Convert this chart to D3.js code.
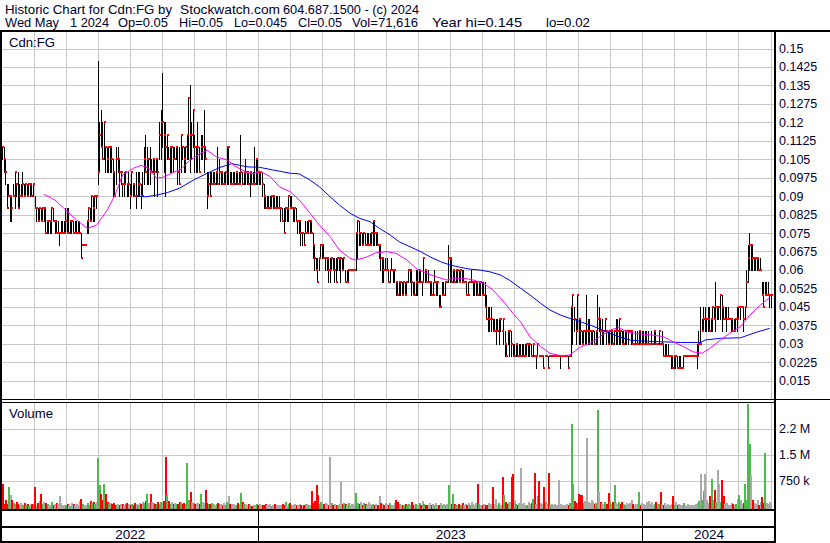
<!DOCTYPE html>
<html><head><meta charset="utf-8">
<script src="https://cdn.jsdelivr.net/npm/d3@7"></script>
<style>html,body{margin:0;padding:0;background:#fff}svg{display:block}text{font-family:"Liberation Sans",Arial,sans-serif}</style>
</head><body><svg id="c" width="830" height="543"></svg>
<script>
// header fields: [text, start x, end x]
const titleLine1 = [["Historic Chart for Cdn:FG by", 5, 172], ["Stockwatch.com", 180, 280], ["604.687.1500 - (c) 2024", 283, 419]];
const titleLine2 = [["Wed May", 5, 59], ["1 2024", 70, 109], ["Op=0.05", 118, 168], ["Hi=0.05", 179, 223], ["Lo=0.045", 234, 287], ["Cl=0.05", 298, 342], ["Vol=71,616", 352, 418], ["Year hi=0.145", 432, 522], ["lo=0.02", 546, 590]];
const symbol = "Cdn:FG";
const volumeTitle = "Volume";
const years = ["2022", "2023", "2024"];
const yearStartBar = [0, 167, 417];
const priceTicks = [0.15, 0.1425, 0.135, 0.1275, 0.12, 0.1125, 0.105, 0.0975, 0.09, 0.0825, 0.075, 0.0675, 0.06, 0.0525, 0.045, 0.0375, 0.03, 0.0225, 0.015];
const priceTickLabels = ["0.15", "0.1425", "0.135", "0.1275", "0.12", "0.1125", "0.105", "0.0975", "0.09", "0.0825", "0.075", "0.0675", "0.06", "0.0525", "0.045", "0.0375", "0.03", "0.0225", "0.015"];
const volTicksK = [750, 1500, 2250];
const volTickLabels = ["750 k", "1.5 M", "2.2 M"];
const prevClose = 0.115;

const highs = [
.11,.11,.105,.095,.095,.09,.09,.095,.10,.095,
.10,.095,.095,.10,.095,.095,.095,.095,.095,.095,
.095,.09,.085,.085,.085,.085,.085,.085,.085,.08,
.08,.08,.085,.085,.08,.08,.08,.075,.08,.08,
.08,.085,.085,.085,.08,.08,.08,.08,.08,.08,
.08,.075,.07,.07,.07,.08,.085,.085,.09,.09,
.09,.09,.145,.12,.125,.12,.12,.11,.11,.11,
.11,.11,.105,.10,.11,.11,.105,.10,.095,.10,
.10,.095,.10,.095,.10,.095,.095,.10,.10,.10,
.095,.10,.11,.115,.11,.105,.11,.105,.105,.105,
.105,.105,.12,.125,.14,.12,.12,.115,.11,.11,
.11,.11,.11,.11,.11,.11,.115,.11,.11,.11,
.115,.13,.135,.12,.125,.115,.11,.12,.11,.115,
.115,.125,.11,.10,.10,.10,.10,.10,.10,.10,
.11,.105,.10,.10,.10,.10,.11,.11,.10,.10,
.10,.10,.10,.10,.10,.115,.10,.10,.105,.10,
.10,.10,.10,.10,.11,.105,.105,.10,.10,.10,
.095,.09,.09,.09,.09,.09,.09,.09,.09,.09,
.09,.085,.085,.085,.085,.085,.09,.09,.09,.085,
.085,.085,.08,.08,.08,.075,.075,.08,.08,.08,
.08,.08,.075,.07,.065,.065,.065,.07,.07,.07,
.065,.065,.065,.065,.065,.065,.065,.065,.065,.065,
.065,.065,.065,.06,.06,.06,.06,.06,.06,.06,
.075,.08,.08,.075,.075,.075,.075,.075,.075,.075,
.075,.08,.08,.075,.075,.07,.07,.065,.065,.065,
.065,.06,.06,.065,.06,.06,.055,.055,.055,.055,
.055,.055,.055,.055,.06,.06,.06,.055,.055,.06,
.06,.06,.06,.055,.065,.06,.06,.06,.055,.055,
.055,.06,.055,.055,.05,.05,.055,.055,.055,.055,
.07,.065,.065,.06,.06,.06,.06,.06,.06,.06,
.06,.055,.055,.055,.055,.06,.055,.055,.055,.055,
.055,.055,.055,.055,.055,.05,.045,.045,.045,.04,
.04,.04,.04,.04,.04,.035,.04,.035,.03,.035,
.035,.035,.03,.03,.03,.03,.03,.03,.03,.03,
.03,.03,.03,.03,.03,.03,.025,.025,.03,.025,
.025,.025,.025,.025,.025,.025,.025,.025,.025,.025,
.025,.025,.025,.025,.025,.025,.025,.025,.025,.025,
.045,.05,.045,.04,.05,.04,.04,.035,.035,.035,
.05,.04,.04,.035,.035,.035,.035,.05,.045,.04,
.04,.035,.04,.035,.035,.035,.035,.035,.035,.04,
.04,.04,.035,.035,.035,.035,.035,.035,.035,.035,
.035,.03,.035,.035,.035,.035,.035,.035,.035,.035,
.035,.03,.035,.03,.035,.035,.03,.035,.03,.035,
.03,.03,.03,.03,.025,.025,.025,.025,.025,.025,
.025,.025,.02,.025,.025,.025,.025,.025,.025,.025,
.025,.025,.03,.035,.045,.04,.045,.045,.04,.045,
.045,.04,.045,.045,.055,.045,.045,.05,.05,.045,
.045,.045,.045,.04,.04,.04,.04,.04,.045,.045,
.045,.045,.045,.045,.06,.07,.075,.07,.07,.065,
.065,.065,.065,.065,.055,.055,.055,.055,.055,.05,
.05];

const lows = [
.105,.10,.095,.085,.09,.08,.08,.09,.085,.09,
.085,.085,.09,.09,.09,.09,.09,.09,.09,.09,
.09,.085,.08,.08,.08,.08,.08,.08,.075,.075,
.075,.075,.075,.08,.075,.075,.075,.07,.075,.075,
.075,.075,.075,.075,.075,.075,.075,.075,.075,.075,
.075,.065,.07,.07,.07,.075,.075,.08,.08,.08,
.08,.085,.095,.10,.11,.105,.105,.10,.10,.10,
.10,.10,.09,.09,.095,.10,.09,.095,.09,.09,
.095,.09,.09,.085,.09,.09,.09,.085,.09,.09,
.085,.09,.095,.10,.095,.095,.095,.10,.10,.09,
.10,.09,.105,.105,.11,.10,.09,.105,.105,.10,
.10,.10,.105,.105,.095,.095,.10,.105,.10,.10,
.105,.105,.10,.105,.11,.10,.10,.10,.10,.105,
.105,.10,.105,.085,.09,.09,.095,.095,.095,.095,
.095,.095,.095,.095,.095,.095,.095,.095,.095,.095,
.095,.095,.095,.095,.095,.095,.095,.095,.095,.095,
.095,.09,.095,.095,.095,.095,.095,.095,.095,.09,
.085,.085,.085,.085,.085,.085,.085,.085,.085,.085,
.085,.08,.08,.075,.08,.08,.08,.085,.085,.08,
.08,.08,.075,.075,.07,.07,.07,.075,.075,.075,
.075,.075,.065,.06,.06,.055,.06,.065,.065,.065,
.06,.06,.055,.055,.06,.06,.055,.055,.06,.06,
.055,.06,.06,.055,.055,.055,.06,.06,.06,.06,
.06,.065,.07,.07,.07,.07,.07,.07,.07,.07,
.07,.07,.07,.07,.07,.065,.06,.055,.055,.06,
.06,.055,.055,.06,.055,.055,.05,.05,.05,.05,
.05,.05,.05,.05,.055,.055,.05,.05,.05,.05,
.05,.055,.055,.05,.055,.055,.055,.055,.05,.05,
.05,.055,.05,.05,.045,.045,.05,.05,.05,.055,
.055,.055,.055,.055,.055,.055,.055,.055,.055,.055,
.055,.055,.05,.05,.055,.055,.05,.05,.05,.05,
.05,.05,.05,.05,.045,.04,.035,.035,.035,.035,
.035,.03,.035,.03,.035,.035,.03,.025,.025,.03,
.025,.025,.025,.025,.025,.025,.025,.025,.025,.025,
.025,.025,.025,.025,.025,.025,.025,.02,.025,.025,
.025,.025,.02,.025,.025,.02,.025,.025,.025,.025,
.025,.025,.025,.02,.025,.025,.025,.025,.02,.025,
.025,.03,.035,.03,.035,.03,.03,.03,.03,.03,
.03,.03,.03,.03,.03,.03,.03,.03,.035,.03,
.03,.03,.035,.03,.03,.03,.03,.03,.03,.03,
.03,.03,.03,.03,.03,.03,.03,.03,.035,.03,
.03,.03,.03,.03,.03,.03,.03,.03,.03,.03,
.03,.03,.03,.03,.03,.03,.03,.03,.03,.03,
.025,.025,.025,.025,.025,.02,.02,.02,.02,.02,
.02,.02,.02,.02,.025,.025,.025,.025,.025,.025,
.025,.025,.02,.025,.03,.035,.035,.035,.035,.035,
.035,.035,.035,.04,.035,.04,.04,.04,.035,.04,
.04,.035,.04,.04,.035,.035,.035,.035,.035,.04,
.04,.045,.035,.04,.045,.055,.06,.06,.06,.06,
.06,.06,.06,.06,.05,.045,.05,.05,.05,.045,
.045];

const closes = [
.11,.105,.10,.085,.09,.09,.085,.09,.10,.095,
.085,.09,.09,.095,.09,.095,.09,.095,.095,.09,
.095,.085,.085,.08,.085,.08,.085,.085,.075,.08,
.08,.08,.085,.08,.08,.075,.075,.075,.075,.075,
.075,.08,.075,.075,.08,.08,.075,.075,.075,.075,
.075,.065,.07,.07,.07,.08,.085,.08,.09,.085,
.09,.09,.10,.115,.11,.105,.12,.11,.105,.11,
.11,.105,.10,.09,.105,.105,.10,.10,.095,.095,
.10,.095,.095,.09,.10,.095,.09,.09,.095,.095,
.09,.09,.105,.10,.105,.105,.10,.10,.105,.10,
.105,.10,.115,.12,.12,.115,.11,.115,.105,.11,
.11,.105,.105,.11,.10,.095,.115,.11,.105,.11,
.115,.13,.115,.115,.125,.11,.11,.11,.10,.11,
.11,.11,.105,.09,.095,.09,.095,.095,.095,.10,
.095,.10,.10,.095,.095,.10,.11,.11,.095,.095,
.095,.095,.10,.095,.095,.10,.095,.10,.10,.10,
.095,.10,.095,.095,.095,.105,.10,.10,.10,.095,
.09,.085,.085,.085,.085,.09,.09,.085,.085,.085,
.085,.085,.08,.075,.085,.085,.09,.085,.085,.085,
.085,.08,.08,.08,.075,.075,.07,.075,.075,.08,
.08,.075,.07,.065,.06,.055,.065,.07,.07,.065,
.065,.065,.06,.06,.065,.06,.06,.055,.065,.065,
.065,.06,.065,.055,.055,.06,.06,.06,.06,.06,
.075,.08,.075,.075,.07,.075,.07,.07,.07,.07,
.075,.08,.075,.075,.07,.07,.065,.065,.06,.06,
.06,.055,.06,.06,.06,.06,.055,.05,.055,.055,
.05,.055,.05,.055,.06,.06,.055,.05,.05,.055,
.055,.06,.055,.055,.065,.06,.055,.055,.055,.05,
.05,.055,.055,.055,.045,.045,.05,.05,.055,.055,
.065,.065,.055,.06,.055,.06,.06,.055,.06,.055,
.055,.055,.05,.05,.055,.055,.055,.055,.055,.05,
.055,.055,.05,.05,.045,.04,.04,.04,.04,.035,
.035,.035,.035,.04,.04,.035,.04,.03,.025,.035,
.035,.03,.025,.025,.03,.025,.025,.025,.025,.025,
.025,.03,.03,.03,.025,.03,.025,.025,.03,.025,
.025,.025,.02,.025,.025,.02,.025,.025,.025,.025,
.025,.025,.025,.025,.025,.025,.025,.025,.02,.025,
.045,.05,.04,.035,.05,.04,.035,.03,.035,.035,
.035,.035,.035,.035,.035,.03,.035,.04,.04,.035,
.035,.035,.04,.035,.03,.035,.035,.03,.035,.035,
.035,.04,.035,.03,.03,.035,.035,.035,.035,.035,
.03,.03,.03,.03,.035,.03,.03,.03,.03,.03,
.03,.03,.03,.03,.035,.03,.03,.035,.03,.03,
.025,.025,.025,.025,.025,.025,.02,.025,.025,.02,
.02,.02,.02,.025,.025,.025,.025,.025,.025,.025,
.025,.025,.025,.03,.03,.035,.04,.04,.04,.04,
.035,.04,.045,.04,.045,.045,.045,.05,.045,.04,
.04,.04,.04,.04,.04,.035,.035,.04,.04,.045,
.045,.045,.04,.045,.055,.065,.07,.07,.065,.065,
.065,.065,.06,.06,.05,.045,.05,.05,.05,.05,
.05];

// volume in thousands of shares
const volumesK = [
640,80,190,60,560,330,190,90,60,120,
70,40,110,50,90,30,60,20,40,80,
60,550,40,90,150,370,60,120,110,60,
30,50,120,40,80,110,60,300,90,40,
50,30,80,40,20,110,70,30,60,40,
160,220,60,30,50,100,40,150,90,120,
80,140,1390,620,360,200,640,360,120,90,
110,60,90,50,30,70,40,80,60,50,
60,100,80,40,70,50,110,60,40,90,
60,120,90,150,360,110,360,140,100,60,
80,140,60,120,90,150,1430,340,170,80,
120,60,100,80,60,140,90,60,110,70,
1250,200,430,120,110,60,110,90,60,360,
120,90,480,110,60,70,90,60,40,80,
110,60,70,40,90,50,120,300,80,60,
70,40,50,90,60,380,140,60,80,30,
60,40,20,50,30,80,40,60,30,50,
40,60,30,50,70,20,40,60,30,40,
50,30,60,40,120,20,60,90,40,30,
60,40,30,80,50,20,40,70,60,30,
50,450,90,160,620,330,60,130,80,60,
110,70,40,1430,90,50,60,30,50,70,
700,60,110,80,50,90,40,70,60,50,
380,90,60,120,40,90,70,50,140,60,
50,80,40,60,30,300,110,60,40,90,
60,40,90,50,30,110,200,130,60,40,
50,30,60,40,80,30,130,50,40,60,
40,90,30,150,60,30,50,40,110,30,
60,40,90,30,50,100,40,60,30,70,
620,100,60,360,80,40,30,60,40,90,
40,60,30,90,50,120,60,40,90,640,
60,40,30,80,50,40,110,70,60,550,
60,210,40,90,50,860,330,120,60,90,
130,850,930,200,60,40,90,1100,60,90,
50,40,120,60,90,220,970,60,300,730,
90,60,550,120,60,970,40,60,30,80,
50,40,770,60,30,50,40,60,30,90,
2380,650,170,110,130,360,340,330,90,150,
1970,120,100,200,120,60,110,2780,420,120,
90,60,120,80,380,150,60,130,620,90,
60,120,80,140,60,40,90,60,100,200,
60,40,80,60,430,30,90,60,40,120,
150,60,130,40,60,120,80,60,430,70,
50,110,40,60,30,70,300,50,120,40,
60,30,50,90,40,20,60,30,40,50,
40,60,90,150,930,200,460,930,190,110,
290,780,190,470,130,1050,640,140,770,290,
60,90,40,30,110,70,40,60,230,330,
200,60,90,640,180,2950,1790,900,190,90,
60,180,40,120,270,110,1530,90,60,120,
72];

// moving averages: [bar index, price]
const maFast = [[27,.0907],[34,.0884],[41,.0843],[48,.0803],[55,.0769],[61,.0782],[68,.0843],[73,.0904],[78,.0986],[85,.1013],[90,.1025],[95,.1013],[100,.0973],[104,.0976],[110,.0993],[116,.1010],[122,.1047],[128,.1071],[133,.1087],[139,.1059],[146,.1047],[151,.1022],[158,.0999],[163,.0990],[167,.1002],[174,.0979],[180,.0938],[187,.0918],[193,.0884],[200,.0830],[206,.0782],[213,.0735],[219,.0681],[226,.0647],[230,.0640],[237,.0653],[243,.0670],[250,.0674],[256,.0667],[263,.0640],[269,.0606],[276,.0586],[282,.0572],[289,.0559],[293,.0566],[300,.0566],[306,.0559],[313,.0545],[319,.0518],[326,.0470],[332,.0423],[337,.0388],[343,.0328],[350,.0288],[356,.0261],[363,.0251],[369,.0254],[376,.0288],[382,.0301],[389,.0331],[395,.0355],[401,.0366],[406,.0348],[415,.0339],[423,.0335],[430,.0328],[436,.0308],[443,.0288],[449,.0267],[455,.0261],[460,.0281],[467,.0315],[473,.0343],[480,.0369],[486,.0416],[493,.0457],[499,.0488]];
const maSlow = [[87,.0900],[93,.0897],[100,.0904],[107,.0914],[115,.0932],[124,.0965],[133,.0993],[141,.1016],[149,.1032],[159,.1019],[167,.1017],[176,.1006],[187,.0993],[193,.0990],[200,.0965],[206,.0938],[213,.0897],[219,.0864],[226,.0830],[232,.0810],[239,.0796],[245,.0769],[252,.0742],[258,.0714],[265,.0694],[272,.0674],[278,.0653],[285,.0633],[291,.0620],[298,.0610],[304,.0603],[311,.0599],[317,.0592],[324,.0579],[330,.0557],[337,.0525],[343,.0498],[350,.0464],[356,.0437],[363,.0416],[369,.0403],[376,.0389],[382,.0376],[389,.0359],[395,.0342],[402,.0326],[408,.0315],[415,.0311],[428,.0308],[441,.0305],[454,.0305],[457,.0315],[467,.0322],[480,.0324],[491,.0348],[499,.0362]];

const N = closes.length;
const svg = d3.select("#c");
const textColor = "#000033";
const gridColor = "#c8c8c8";

const x = d3.scaleBand().domain(d3.range(N)).range([2, 772]).padding(0);
const xc = i => x(i) + x.bandwidth() / 2;
const y = d3.scaleLinear().domain([0.015, 0.15]).range([380.6, 48.5]);
const yv = d3.scaleLinear().domain([0, 3000]).range([506.5, 402.5]);
const gridX = d3.scaleLinear().domain([0, 24]).range([2, 770.5]);

svg.append("rect").attr("width", 830).attr("height", 543).attr("fill", "#fff");

// grids
const g = svg.append("g").attr("shape-rendering", "crispEdges");
g.selectAll(".hg").data(priceTicks).join("line")
  .attr("x1", 2).attr("x2", 774).attr("y1", d => Math.round(y(d)) + 0.5).attr("y2", d => Math.round(y(d)) + 0.5)
  .attr("stroke", gridColor);
g.selectAll(".hv").data(volTicksK).join("line")
  .attr("x1", 2).attr("x2", 774).attr("y1", d => Math.round(yv(d)) + 0.5).attr("y2", d => Math.round(yv(d)) + 0.5)
  .attr("stroke", gridColor);
const vk = d3.range(1, 25);
g.selectAll(".vg1").data(vk).join("line")
  .attr("x1", d => Math.round(gridX(d)) + 0.5).attr("x2", d => Math.round(gridX(d)) + 0.5)
  .attr("y1", 32).attr("y2", 399).attr("stroke", gridColor);
g.selectAll(".vg2").data(vk).join("line")
  .attr("x1", d => Math.round(gridX(d)) + 0.5).attr("x2", d => Math.round(gridX(d)) + 0.5)
  .attr("y1", 403).attr("y2", 509).attr("stroke", gridColor);

// volume bars
const volColor = i => {
  const p = i === 0 ? prevClose : closes[i - 1];
  return closes[i] > p ? "#4cbb4c" : closes[i] < p ? "#ff0000" : "#aaaaaa";
};
svg.append("g").attr("shape-rendering", "crispEdges").selectAll("rect").data(volumesK).join("rect")
  .attr("x", (d, i) => Math.round(x(i)))
  .attr("width", 2)
  .attr("y", d => Math.round(yv(d)))
  .attr("height", d => Math.max(0, 509 - Math.round(yv(d))))
  .attr("fill", (d, i) => volColor(i));

// price bars
const bars = svg.append("g").attr("shape-rendering", "crispEdges");
bars.selectAll("rect.hl").data(highs).join("rect")
  .attr("x", (d, i) => Math.floor(xc(i)))
  .attr("width", 1)
  .attr("y", (d, i) => Math.round(y(highs[i])))
  .attr("height", (d, i) => Math.max(1, Math.round(y(lows[i])) - Math.round(y(highs[i])) + 1))
  .attr("fill", "#000");
bars.selectAll("rect.cl").data(closes).join("rect")
  .attr("x", (d, i) => Math.floor(xc(i)))
  .attr("width", 2)
  .attr("y", d => Math.round(y(d)) - 1)
  .attr("height", 2)
  .attr("fill", "#ff0000");

// moving averages
const line = d3.line().x(d => xc(d[0])).y(d => y(d[1]));
svg.append("path").datum(maSlow).attr("d", line).attr("fill", "none").attr("stroke", "#0000ff").attr("stroke-width", 1);
svg.append("path").datum(maFast).attr("d", line).attr("fill", "none").attr("stroke", "#ff00ff").attr("stroke-width", 1);

// frame
const fr = svg.append("g").attr("fill", "#000").attr("shape-rendering", "crispEdges");
fr.append("rect").attr("x", 0).attr("y", 30).attr("width", 830).attr("height", 2);
fr.append("rect").attr("x", 0).attr("y", 30).attr("width", 2).attr("height", 513);
fr.append("rect").attr("x", 774).attr("y", 30).attr("width", 2).attr("height", 513);
fr.append("rect").attr("x", 0).attr("y", 399).attr("width", 830).attr("height", 1);
fr.append("rect").attr("x", 0).attr("y", 402).attr("width", 775).attr("height", 1);
fr.append("rect").attr("x", 0).attr("y", 509).attr("width", 776).attr("height", 2);
fr.append("rect").attr("x", 0).attr("y", 526).attr("width", 776).attr("height", 2);
fr.append("rect").attr("x", 0).attr("y", 541).attr("width", 776).attr("height", 2);
fr.selectAll(".yb").data(yearStartBar.slice(1)).join("rect")
  .attr("x", d => Math.round(x(d)) - 1).attr("y", 509).attr("width", 1).attr("height", 34);

// year labels
const yearEnds = yearStartBar.slice(1).map(d => x(d)).concat([775]);
svg.selectAll(".yl").data(years).join("text")
  .attr("x", (d, i) => (x(yearStartBar[i]) + yearEnds[i]) / 2)
  .attr("y", 539).attr("text-anchor", "middle").attr("font-size", 13.5).attr("fill", textColor)
  .text(d => d);

// axis labels
svg.selectAll(".pl").data(priceTicks).join("text")
  .attr("x", 779).attr("y", d => y(d) + 4.5).attr("font-size", 12.5).attr("fill", textColor)
  .text((d, i) => priceTickLabels[i]);
svg.selectAll(".vl").data(volTicksK).join("text")
  .attr("x", 779).attr("y", d => yv(d) + 4.5).attr("font-size", 12.5).attr("fill", textColor)
  .text((d, i) => volTickLabels[i]);

// header lines, each field fitted to its span
const header = (fields, baseline) => svg.append("g").selectAll("text").data(fields).join("text")
  .attr("x", d => d[1]).attr("y", baseline).attr("font-size", 13.5).attr("fill", textColor)
  .attr("textLength", d => d[2] - d[1]).attr("lengthAdjust", "spacingAndGlyphs")
  .text(d => d[0]);
header(titleLine1, 13.5);
header(titleLine2, 27);
svg.append("text").attr("x", 9).attr("y", 47).attr("font-size", 13.5).attr("fill", textColor)
  .attr("textLength", 46).attr("lengthAdjust", "spacingAndGlyphs").text(symbol);
svg.append("text").attr("x", 9).attr("y", 418).attr("font-size", 13.5).attr("fill", textColor)
  .attr("textLength", 44).attr("lengthAdjust", "spacingAndGlyphs").text(volumeTitle);
</script></body></html>
